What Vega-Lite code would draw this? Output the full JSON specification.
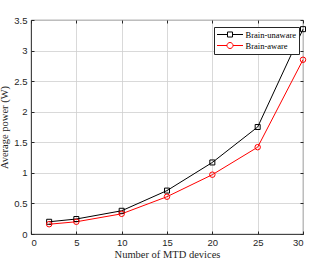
{
  "$schema": "https://vega.github.io/schema/vega-lite/v6.json",
  "width": 272,
  "height": 214,
  "autosize": {"type": "none"},
  "padding": {"left": 31, "top": 20, "right": 33, "bottom": 29},
  "background": "white",
  "config": {
    "view": {"stroke": "#262626", "strokeWidth": 0.8},
    "axis": {
      "labelFont": "Liberation Sans",
      "labelFontSize": 9.5,
      "labelColor": "#262626",
      "titleFont": "Liberation Serif",
      "titleFontSize": 10.5,
      "titleFontWeight": "normal",
      "titleColor": "#262626",
      "domainColor": "#262626",
      "domainWidth": 0.8,
      "tickColor": "#262626",
      "tickSize": -3,
      "gridColor": "#cfcfcf",
      "gridWidth": 0.8
    },
    "legend": {
      "labelFont": "Liberation Serif",
      "labelFontSize": 8.5,
      "labelColor": "#000000",
      "symbolOpacity": 1
    }
  },
  "data": {
    "values": [
      {"n": 2, "power": 0.2, "series": "Brain-unaware"},
      {"n": 5, "power": 0.245, "series": "Brain-unaware"},
      {"n": 10, "power": 0.38, "series": "Brain-unaware"},
      {"n": 15, "power": 0.71, "series": "Brain-unaware"},
      {"n": 20, "power": 1.17, "series": "Brain-unaware"},
      {"n": 25, "power": 1.75, "series": "Brain-unaware"},
      {"n": 30, "power": 3.35, "series": "Brain-unaware"},
      {"n": 2, "power": 0.16, "series": "Brain-aware"},
      {"n": 5, "power": 0.2, "series": "Brain-aware"},
      {"n": 10, "power": 0.33, "series": "Brain-aware"},
      {"n": 15, "power": 0.61, "series": "Brain-aware"},
      {"n": 20, "power": 0.97, "series": "Brain-aware"},
      {"n": 25, "power": 1.42, "series": "Brain-aware"},
      {"n": 30, "power": 2.85, "series": "Brain-aware"}
    ]
  },
  "resolve": {"axis": {"x": "independent", "y": "independent"}},
  "layer": [
    {
      "mark": {"type": "line", "strokeWidth": 1},
      "encoding": {
        "x": {"field": "n", "type": "quantitative", "scale": {"domain": [0, 30], "nice": false},
              "axis": {"values": [0, 5, 10, 15, 20, 25, 30], "grid": true, "title": "Number of MTD devices", "titlePadding": 3, "labelPadding": 6}},
        "y": {"field": "power", "type": "quantitative", "scale": {"domain": [0, 3.5], "nice": false},
              "axis": {"values": [0, 0.5, 1, 1.5, 2, 2.5, 3, 3.5], "grid": true, "format": ".1~f", "title": "Average power (W)", "titlePadding": 4, "labelPadding": 7}},
        "color": {"field": "series", "type": "nominal", "scale": {"domain": ["Brain-unaware", "Brain-aware"], "range": ["#000000", "#ff0000"]}}
      }
    },
    {
      "transform": [{"filter": "datum.series == 'Brain-unaware'"}],
      "mark": {"type": "point", "shape": "square", "filled": false, "size": 25, "strokeWidth": 1, "color": "#000000", "opacity": 1},
      "encoding": {
        "x": {"field": "n", "type": "quantitative", "axis": null},
        "y": {"field": "power", "type": "quantitative", "axis": null}
      }
    },
    {
      "transform": [{"filter": "datum.series == 'Brain-aware'"}],
      "mark": {"type": "point", "shape": "circle", "filled": false, "size": 30, "strokeWidth": 1, "color": "#ff0000", "opacity": 1},
      "encoding": {
        "x": {"field": "n", "type": "quantitative", "axis": null},
        "y": {"field": "power", "type": "quantitative", "axis": null}
      }
    },
    {
      "mark": {"type": "point", "filled": false, "opacity": 0, "strokeWidth": 1},
      "encoding": {
        "x": {"field": "n", "type": "quantitative",
              "axis": {"orient": "top", "values": [0, 5, 10, 15, 20, 25, 30], "labels": false, "title": null, "grid": false, "domain": false}},
        "y": {"field": "power", "type": "quantitative",
              "axis": {"orient": "right", "values": [0, 0.5, 1, 1.5, 2, 2.5, 3, 3.5], "labels": false, "title": null, "grid": false, "domain": false}},
        "color": {"field": "series", "type": "nominal"},
        "shape": {"field": "series", "type": "nominal",
                  "scale": {"domain": ["Brain-unaware", "Brain-aware"],
                            "range": ["M-1,0H1.33M2.45,0H4.78M1.33,-0.56H2.45V0.56H1.33Z", "M-1,0H1.22M2.56,0H4.78M1.22,0A0.67,0.67 0 1,0 2.56,0A0.67,0.67 0 1,0 1.22,0Z"]},
                  "legend": {"title": null, "orient": "none", "legendX": 183, "legendY": 7, "symbolSize": 81, "symbolStrokeWidth": 1, "labelOffset": 19, "rowPadding": 0, "padding": 2.5, "strokeColor": "#262626", "fillColor": "white", "symbolFillColor": "transparent"}}
      }
    }
  ]
}
